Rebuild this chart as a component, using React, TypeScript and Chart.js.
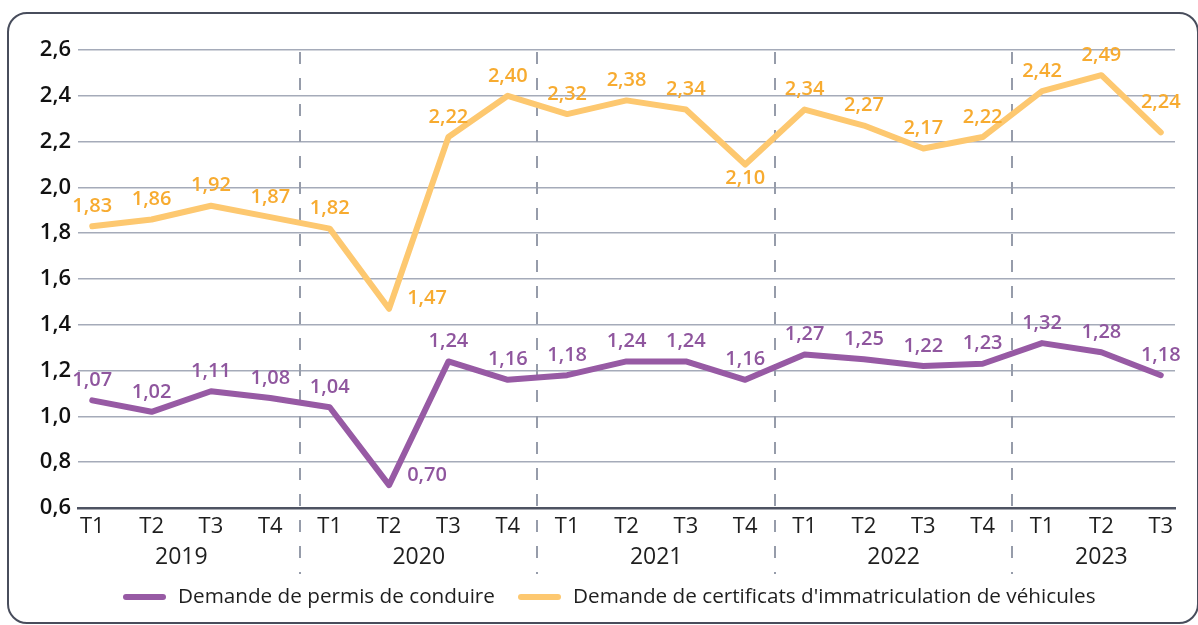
import React, { useEffect, useRef } from "react";
import { Chart, registerables } from "chart.js";

Chart.register(...registerables);

const quarterLabels = [
  "T1", "T2", "T3", "T4",
  "T1", "T2", "T3", "T4",
  "T1", "T2", "T3", "T4",
  "T1", "T2", "T3", "T4",
  "T1", "T2", "T3",
];
const yearLabels = ["2019", "2020", "2021", "2022", "2023"];
const quartersPerYear = [4, 4, 4, 4, 3];

const permisConduire = [
  1.07, 1.02, 1.11, 1.08,
  1.04, 0.70, 1.24, 1.16,
  1.18, 1.24, 1.24, 1.16,
  1.27, 1.25, 1.22, 1.23,
  1.32, 1.28, 1.18,
];
const certificatsImmat = [
  1.83, 1.86, 1.92, 1.87,
  1.82, 1.47, 2.22, 2.40,
  2.32, 2.38, 2.34, 2.10,
  2.34, 2.27, 2.17, 2.22,
  2.42, 2.49, 2.24,
];

const seriesNames = [
  "Demande de permis de conduire",
  "Demande de certificats d'immatriculation de véhicules",
];

const yMin = 0.6;
const yMax = 2.6;
const yStep = 0.2;

// label placement per point (style info, not data)
const permisLabelPlacement = quarterLabels.map((_, i) => (i === 5 ? "right" : "top"));
const certifLabelPlacement = quarterLabels.map((_, i) =>
  i === 5 ? "right" : i === 11 ? "bottom" : i === 18 ? "high" : "top"
);

const PURPLE_LINE = "rgb(151, 90, 164)";
const PURPLE_TEXT = "rgb(143, 86, 158)";
const ORANGE_LINE = "rgb(253, 200, 112)";
const ORANGE_TEXT = "rgb(247, 171, 48)";
const FONT = "'Open Sans', 'DejaVu Sans', sans-serif";

const fmt = (v: number, d: number) => Number(v).toFixed(d).replace(".", ",");

const seriesValues = [permisConduire, certificatsImmat];

const overlayPlugin = {
  id: "overlay",
  beforeDatasetsDraw(chart: any) {
    const ctx = chart.ctx;
    const x = chart.scales.x;
    const area = chart.chartArea;
    ctx.save();
    ctx.strokeStyle = "rgb(150, 156, 170)";
    ctx.lineWidth = 2;
    ctx.setLineDash([12, 14]);
    let idx = 0;
    for (let g = 0; g < quartersPerYear.length - 1; g++) {
      idx += quartersPerYear[g];
      const px = Math.round(x.getPixelForValue(idx - 0.5));
      ctx.beginPath();
      ctx.moveTo(px, area.top + 2);
      ctx.lineTo(px, 574);
      ctx.stroke();
    }
    ctx.restore();
  },
  afterDatasetsDraw(chart: any) {
    const ctx = chart.ctx;
    const x = chart.scales.x;
    ctx.save();
    const placements = [permisLabelPlacement, certifLabelPlacement];
    const colors = [PURPLE_TEXT, ORANGE_TEXT];
    ctx.font = `600 20px ${FONT}`;
    ctx.textAlign = "center";
    ctx.textBaseline = "middle";
    chart.data.datasets.forEach((_ds: any, di: number) => {
      const meta = chart.getDatasetMeta(di);
      ctx.fillStyle = colors[di];
      meta.data.forEach((pt: any, i: number) => {
        const p = placements[di][i];
        let dx = 0;
        let dy = -20;
        if (p === "right") { dx = 38; dy = -10; }
        else if (p === "bottom") { dy = 14; }
        else if (p === "high") { dy = -30; }
        ctx.fillText(fmt(seriesValues[di][i], 2), pt.x + dx, pt.y + dy);
      });
    });
    ctx.fillStyle = "#1e1e1e";
    ctx.font = `400 23px ${FONT}`;
    let start = 0;
    quartersPerYear.forEach((n, g) => {
      const mid = start + (n - 1) / 2;
      ctx.fillText(yearLabels[g], x.getPixelForValue(mid), 557);
      start += n;
    });
    const legendItems = [
      { name: seriesNames[0], color: PURPLE_LINE, x0: 123 },
      { name: seriesNames[1], color: ORANGE_LINE, x0: 518 },
    ];
    ctx.font = `400 20.7px ${FONT}`;
    ctx.textAlign = "left";
    legendItems.forEach((it) => {
      ctx.strokeStyle = it.color;
      ctx.lineWidth = 6;
      ctx.lineCap = "round";
      ctx.beginPath();
      ctx.moveTo(it.x0 + 3, 597);
      ctx.lineTo(it.x0 + 40, 597);
      ctx.stroke();
      ctx.fillStyle = "#1e1e1e";
      ctx.fillText(it.name, it.x0 + 55, 597);
    });
    ctx.restore();
  },
};

export default function App() {
  const canvasRef = useRef<HTMLCanvasElement | null>(null);

  useEffect(() => {
    if (!canvasRef.current) return;
    const points = (arr: number[]) => arr.map((v, i) => ({ x: i, y: v }));
    const chart = new Chart(canvasRef.current, {
      type: "line",
      data: {
        datasets: [
          {
            label: seriesNames[0],
            data: points(permisConduire) as any,
            borderColor: PURPLE_LINE,
            borderWidth: 6,
            pointRadius: 0,
            tension: 0,
            borderJoinStyle: "round",
            borderCapStyle: "round",
          },
          {
            label: seriesNames[1],
            data: points(certificatsImmat) as any,
            borderColor: ORANGE_LINE,
            borderWidth: 6,
            pointRadius: 0,
            tension: 0,
            borderJoinStyle: "round",
            borderCapStyle: "round",
          },
        ],
      },
      options: {
        animation: false,
        responsive: false,
        layout: { padding: { left: 0, right: 23, top: 50, bottom: 0 } },
        plugins: {
          legend: { display: false },
          tooltip: { enabled: false },
        },
        scales: {
          x: {
            type: "linear",
            min: -0.24,
            max: quarterLabels.length - 1 + 0.24,
            afterBuildTicks: (scale: any) => {
              scale.ticks = quarterLabels.map((_, i) => ({ value: i }));
            },
            afterFit: (scale: any) => {
              scale.height = 117;
            },
            grid: { display: false, drawTicks: false },
            border: { display: true, color: "rgb(78, 83, 98)", width: 2.5 },
            ticks: {
              padding: 6,
              autoSkip: false,
              maxRotation: 0,
              color: "#1e1e1e",
              font: { family: FONT, size: 22, weight: "400" },
              callback: (v: any) => quarterLabels[Math.round(Number(v))] ?? "",
            },
          },
          y: {
            min: yMin,
            max: yMax,
            afterFit: (scale: any) => {
              scale.width = 78;
            },
            grid: {
              color: "rgb(165, 171, 185)",
              lineWidth: 1.5,
              drawTicks: false,
            },
            border: { display: false },
            ticks: {
              stepSize: yStep,
              padding: 7,
              color: "#111111",
              font: { family: FONT, size: 22, weight: "600" },
              callback: (v: any) => fmt(Number(v), 1),
            },
          },
        },
      },
      plugins: [overlayPlugin],
    });
    return () => chart.destroy();
  }, []);

  return (
    <div style={{ position: "fixed", left: 0, top: 0, width: 1198, height: 625, background: "#fff" }}>
      <div
        style={{
          position: "absolute",
          left: 7,
          top: 12,
          width: 1192,
          height: 612,
          boxSizing: "border-box",
          border: "2.5px solid rgb(72, 77, 92)",
          borderRadius: 20,
        }}
      />
      <canvas
        ref={canvasRef}
        width={1198}
        height={625}
        style={{ position: "absolute", left: 0, top: 0, width: 1198, height: 625 }}
      />
    </div>
  );
}
